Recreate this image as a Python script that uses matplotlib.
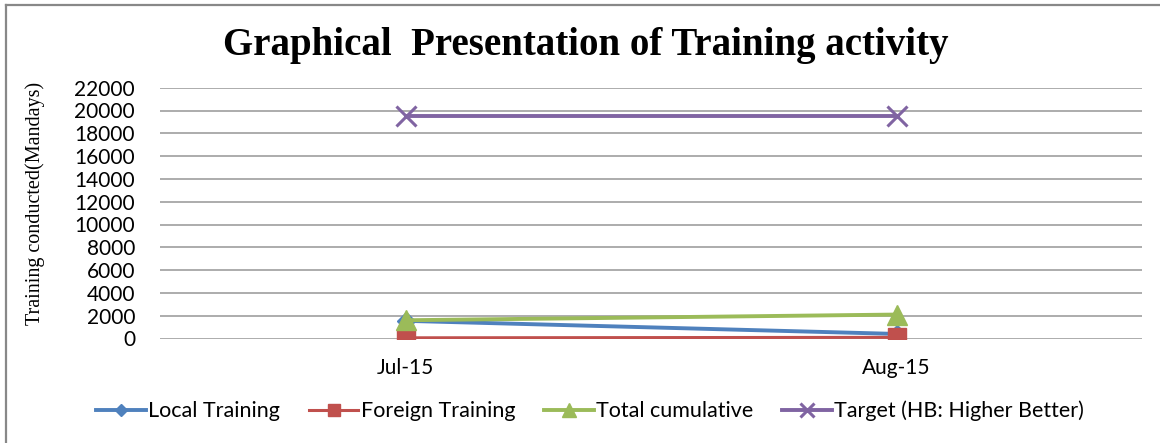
import matplotlib
matplotlib.use("Agg")
import matplotlib.pyplot as plt
from matplotlib.lines import Line2D

months = ["Jul-15", "Aug-15"]
local_training = [1550, 400]
foreign_training = [60, 100]
total_cumulative = [1600, 2100]
target = [19500, 19500]
yticks = list(range(0, 22001, 2000))

fig = plt.figure(figsize=(11.6, 4.43), dpi=100)
ax = fig.add_axes([160/1160, 1-338.5/443, (1142-160)/1160, (338.5-87.7)/443])

x = [0, 1]
ax.plot(x, local_training, color="#4F81BD", lw=2.8, marker="D", ms=9, label="Local Training", zorder=3)
ax.plot(x, foreign_training, color="#C0504D", lw=2.2, marker="s", ms=13, label="Foreign Training", zorder=4)
ax.plot(x, total_cumulative, color="#9BBB59", lw=2.8, marker="^", ms=15, label="Total cumulative", zorder=5)
ax.plot(x, target, color="#8064A2", lw=2.8, marker="x", ms=15, mew=2.2, label="Target (HB: Higher Better)", zorder=6)

ax.set_xlim(-0.5, 1.5)
ax.set_ylim(0, 22000)
ax.set_yticks(yticks)
ax.set_yticklabels([str(v) for v in yticks], fontfamily="Lato", fontsize=15)
ax.set_xticks(x)
ax.set_xticklabels(months, fontfamily="Lato", fontsize=15)
ax.tick_params(axis="y", length=0, pad=18)
ax.tick_params(axis="x", length=0, pad=14)
ax.grid(axis="y", color="#A6A6A6", lw=1.3)
ax.set_axisbelow(True)
for s in ax.spines.values():
    s.set_visible(False)

fig.text(0.505, 0.898, "Graphical  Presentation of Training activity", ha="center", va="center",
         fontfamily="Liberation Serif", fontweight="bold", fontsize=28)
fig.text(35/1160, 1-203/443, "Training conducted(Mandays)", rotation=90, ha="center", va="center",
         fontfamily="Liberation Serif", fontsize=14.5)

handles, labels = ax.get_legend_handles_labels()
leg = fig.legend(handles, labels, loc="center", bbox_to_anchor=(590/1160, 1-411/443), ncol=4,
                 frameon=False, prop={"family": "Lato", "size": 15.5}, handlelength=2.3,
                 handletextpad=0.1, columnspacing=1.35, markerscale=0.65)

# figure border (left and top)
fig.add_artist(Line2D([6/1160, 6/1160], [0, 1-5/443], color="#888888", lw=1.6, transform=fig.transFigure))
fig.add_artist(Line2D([6/1160, 1], [1-5/443, 1-5/443], color="#888888", lw=1.6, transform=fig.transFigure))

fig.savefig("out.png", dpi=100)
